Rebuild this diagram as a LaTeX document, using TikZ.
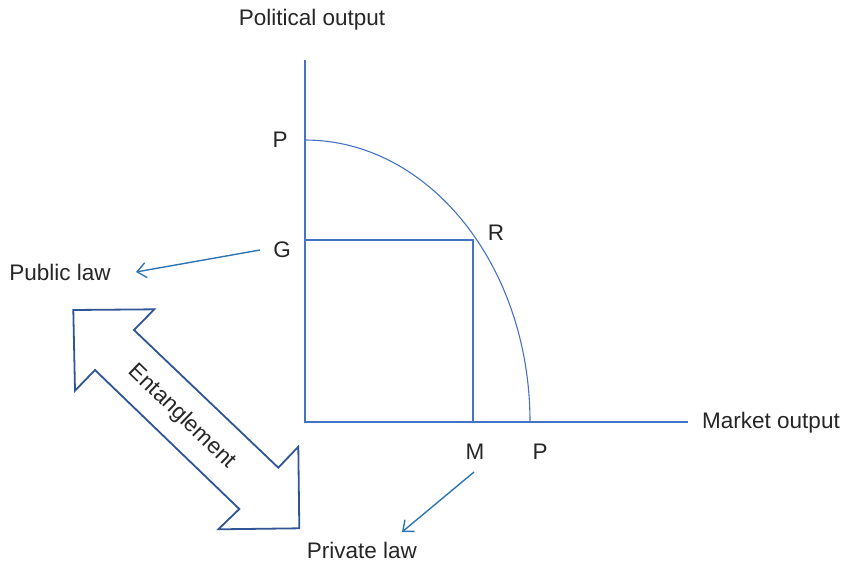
\documentclass[tikz,border=0pt]{standalone}
\usepackage{fontspec}
\setmainfont{Liberation Sans}
\usetikzlibrary{arrows.meta}
\definecolor{axisblue}{RGB}{68,114,196}
\definecolor{arrowblue}{RGB}{46,117,182}
\definecolor{darkblue}{RGB}{47,85,151}
\begin{document}
\begin{tikzpicture}[x=1pt,y=-1pt,
  lbl/.style={font=\fontsize{22.5}{25}\selectfont, text=black!85, inner sep=0pt},
  axisline/.style={draw=axisblue, line width=1.1pt},
  smallarrow/.style={draw=arrowblue, line width=1.4pt, -{Straight Barb[length=9pt,width=15pt,line width=1.4pt]}},
  bigarrow/.style={draw=darkblue, line width=1.8pt, line join=miter}]
\useasboundingbox (0,0) rectangle (843,563);
% axes
\coordinate (O) at (305,422);
\coordinate (ytop) at (305,60);
\coordinate (xend) at (688,422);
\coordinate (Ptop) at (305,140);
\coordinate (Pbot) at (530,422);
\coordinate (Gpt) at (305,240);
\coordinate (Rpt) at (473,240);
\coordinate (Mpt) at (473,422);
\draw[axisline] (ytop) -- (O) -- (xend);
\draw[axisline] (Ptop) arc[start angle=90, end angle=0, x radius=225, y radius=-282];
\draw[axisline] (Gpt) -- (Rpt) -- (Mpt);
% labels
\node[lbl] (pol) at (312,20) {Political output};
\node[lbl] (mkt) at (771,423) {Market output};
\node[lbl] (Py) at (280,140) {P};
\node[lbl] (G) at (282,250) {G};
\node[lbl] (R) at (496,233) {R};
\node[lbl] (M) at (475,452) {M};
\node[lbl] (Px) at (540,452) {P};
\node[lbl] (pub) at (60,272) {Public law};
\node[lbl] (priv) at (362,550) {Private law};
% small arrows
\coordinate (g1) at (260,250);
\coordinate (g2) at (136,272);
\coordinate (m1) at (474,472);
\coordinate (m2) at (402,532);
\draw[smallarrow] (g1) -- (g2);
\draw[smallarrow] (m1) -- (m2);
% double arrow
\draw[bigarrow] (73.3,310) -- (154.3,309.3) -- (134,330) -- (278.3,467.7) -- (298.3,446.7)
  -- (299.3,528.3) -- (218.3,529.3) -- (239.3,509) -- (95,370) -- (75,390.7) -- cycle;
\node[lbl, rotate=-44] (ent) at (181.7,416.7) {Entanglement};
\end{tikzpicture}
\end{document}
